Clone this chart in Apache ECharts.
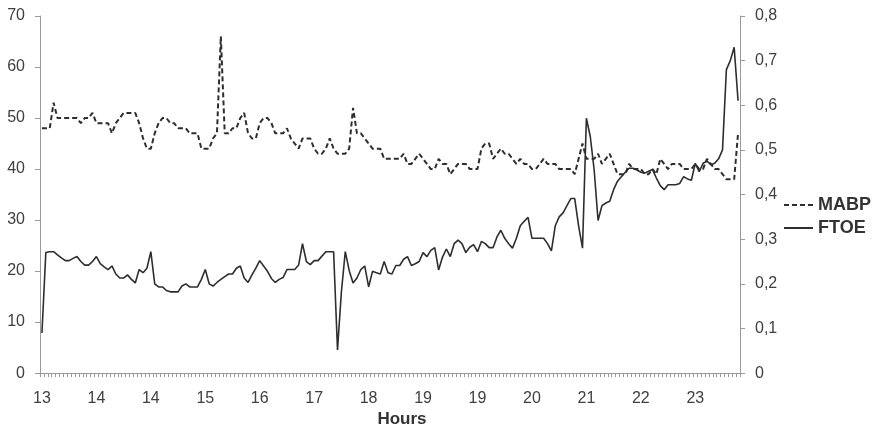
<!DOCTYPE html>
<html>
<head>
<meta charset="utf-8">
<script src="https://cdn.jsdelivr.net/npm/echarts@6/dist/echarts.min.js"></script>
<style>
  html, body { margin: 0; padding: 0; background: #fff; }
  #chart { width: 874px; height: 433px; }
</style>
</head>
<body>
<div id="chart"></div>
<script>
// Mean arterial blood pressure (mmHg), one sample per category
const mabp = [
  48, 48, 48, 53, 50, 50, 50, 50, 50, 50,
  49, 50, 50, 51, 49, 49, 49, 49, 47, 49,
  50, 51, 51, 51, 51, 49, 46, 44, 44, 47,
  49, 50, 50, 49, 49, 48, 48, 48, 47, 47,
  47, 44, 44, 44, 46, 47, 66, 47, 47, 48,
  48, 50, 51, 47, 46, 46, 49, 50, 50, 49,
  47, 47, 47, 48, 46, 45, 44, 46, 46, 46,
  44, 43, 43, 44, 46, 44, 43, 43, 43, 44,
  52, 47, 47, 46, 45, 44, 44, 44, 42, 42,
  42, 42, 42, 43, 41, 41, 42, 43, 42, 41,
  40, 40, 42, 41, 41, 39, 40, 41, 41, 41,
  40, 40, 40, 44, 45, 45, 42, 43, 44, 43,
  43, 42, 41, 42, 41, 41, 40, 40, 41, 42,
  41, 41, 41, 40, 40, 40, 40, 39, 42, 45,
  42, 42, 42, 43, 41, 42, 43, 41, 39, 39,
  39, 41, 40, 40, 40, 39, 39, 40, 39, 42,
  41, 40, 41, 41, 41, 40, 40, 40, 41, 40,
  40, 42, 41, 40, 40, 39, 38, 38, 38, 47
];

// Fractional tissue oxygen extraction, same samples
const ftoe = [
  0.09, 0.27, 0.272, 0.272, 0.265, 0.258, 0.252, 0.252, 0.257, 0.261,
  0.25, 0.242, 0.242, 0.25, 0.261, 0.245, 0.238, 0.232, 0.24, 0.222,
  0.213, 0.213, 0.22, 0.21, 0.202, 0.232, 0.225, 0.235, 0.272, 0.2,
  0.193, 0.193, 0.185, 0.182, 0.182, 0.182, 0.195, 0.2, 0.193, 0.193,
  0.193, 0.21, 0.232, 0.2, 0.195, 0.203, 0.21, 0.216, 0.222, 0.222,
  0.235, 0.24, 0.213, 0.203, 0.22, 0.235, 0.252, 0.24, 0.228, 0.212,
  0.203, 0.21, 0.214, 0.232, 0.232, 0.232, 0.242, 0.29, 0.25, 0.243,
  0.252, 0.252, 0.262, 0.272, 0.272, 0.272, 0.052, 0.182, 0.272, 0.23,
  0.202, 0.213, 0.232, 0.24, 0.193, 0.228, 0.225, 0.222, 0.25, 0.225,
  0.222, 0.241, 0.241, 0.255, 0.261, 0.241, 0.245, 0.25, 0.27, 0.261,
  0.275, 0.281, 0.231, 0.26, 0.278, 0.261, 0.29, 0.298, 0.29, 0.27,
  0.282, 0.288, 0.272, 0.295, 0.29, 0.281, 0.281, 0.305, 0.32, 0.302,
  0.29, 0.28, 0.302, 0.33, 0.34, 0.349, 0.302, 0.302, 0.302, 0.302,
  0.29, 0.274, 0.33, 0.35, 0.359, 0.375, 0.391, 0.391, 0.33, 0.28,
  0.571, 0.53, 0.455, 0.342, 0.375, 0.381, 0.385, 0.411, 0.43, 0.44,
  0.45, 0.459, 0.459, 0.455, 0.45, 0.448, 0.452, 0.456, 0.437, 0.42,
  0.411, 0.422, 0.422, 0.422, 0.425, 0.44, 0.435, 0.432, 0.47, 0.451,
  0.47, 0.475, 0.467, 0.47, 0.48, 0.5, 0.68, 0.7, 0.73, 0.61
];

// Hour labels shown every 14 samples along the time axis
const hourLabels = ['13', '14', '14', '15', '16', '17', '18', '19', '19', '20', '21', '22', '23'];
const labelStep = 14;

// Sample index categories
const categories = mabp.map((_, i) => String(i));

const axisGray = '#9a9a9a';
const textGray = '#404040';
const lineDark = '#2e2e2e';
const font = 'Liberation Sans, Arial, sans-serif';

const chart = echarts.init(document.getElementById('chart'), null, { renderer: 'canvas' });

chart.setOption({
  animation: false,
  backgroundColor: '#fff',
  grid: { left: 40, right: 134, top: 16, bottom: 56, containLabel: false },
  legend: {
    orient: 'vertical',
    left: 783,
    top: 196,
    padding: 0,
    itemWidth: 29,
    itemHeight: 14,
    itemGap: 5,
    // keep only the line part of each legend key
    itemStyle: { color: 'rgba(0,0,0,0)', borderWidth: 0, opacity: 0 },
    textStyle: { fontFamily: font, fontSize: 18, fontWeight: 'bold', color: '#333' },
    data: ['MABP', 'FTOE']
  },
  xAxis: {
    type: 'category',
    data: categories,
    boundaryGap: true,
    name: 'Hours',
    nameLocation: 'middle',
    nameGap: 37,
    nameTextStyle: { fontFamily: font, fontSize: 17, fontWeight: 'bold', color: '#333', padding: [0, 0, 0, 24] },
    axisLine: { show: true, lineStyle: { color: axisGray, width: 1 } },
    axisTick: { show: true, interval: 0, length: 4, lineStyle: { color: axisGray } },
    axisLabel: {
      interval: labelStep - 1,
      margin: 17,
      fontFamily: font,
      fontSize: 16,
      color: textGray,
      formatter: (v, idx) => (idx % labelStep === 0 ? hourLabels[idx / labelStep] : '')
    },
    splitLine: { show: false }
  },
  yAxis: [
    {
      type: 'value',
      min: 0,
      max: 70,
      interval: 10,
      axisLine: { show: true, lineStyle: { color: axisGray, width: 1 } },
      axisTick: { show: true, length: 5, lineStyle: { color: axisGray } },
      axisLabel: { margin: 15, fontFamily: font, fontSize: 16, color: textGray },
      splitLine: { show: false }
    },
    {
      type: 'value',
      position: 'right',
      min: 0,
      max: 0.8,
      interval: 0.1,
      axisLine: { show: true, lineStyle: { color: axisGray, width: 1 } },
      axisTick: { show: true, length: 5, lineStyle: { color: axisGray } },
      axisLabel: {
        margin: 15,
        fontFamily: font,
        fontSize: 16,
        color: textGray,
        formatter: v => (v === 0 ? '0' : v.toFixed(1).replace('.', ','))
      },
      splitLine: { show: false }
    }
  ],
  series: [
    {
      name: 'MABP',
      type: 'line',
      yAxisIndex: 0,
      data: mabp,
      symbol: 'none',
      color: lineDark,
      lineStyle: { color: lineDark, width: 2, type: [5, 3] }
    },
    {
      name: 'FTOE',
      type: 'line',
      yAxisIndex: 1,
      data: ftoe,
      symbol: 'none',
      color: lineDark,
      lineStyle: { color: lineDark, width: 1.6, type: 'solid' }
    }
  ]
});
</script>
</body>
</html>
